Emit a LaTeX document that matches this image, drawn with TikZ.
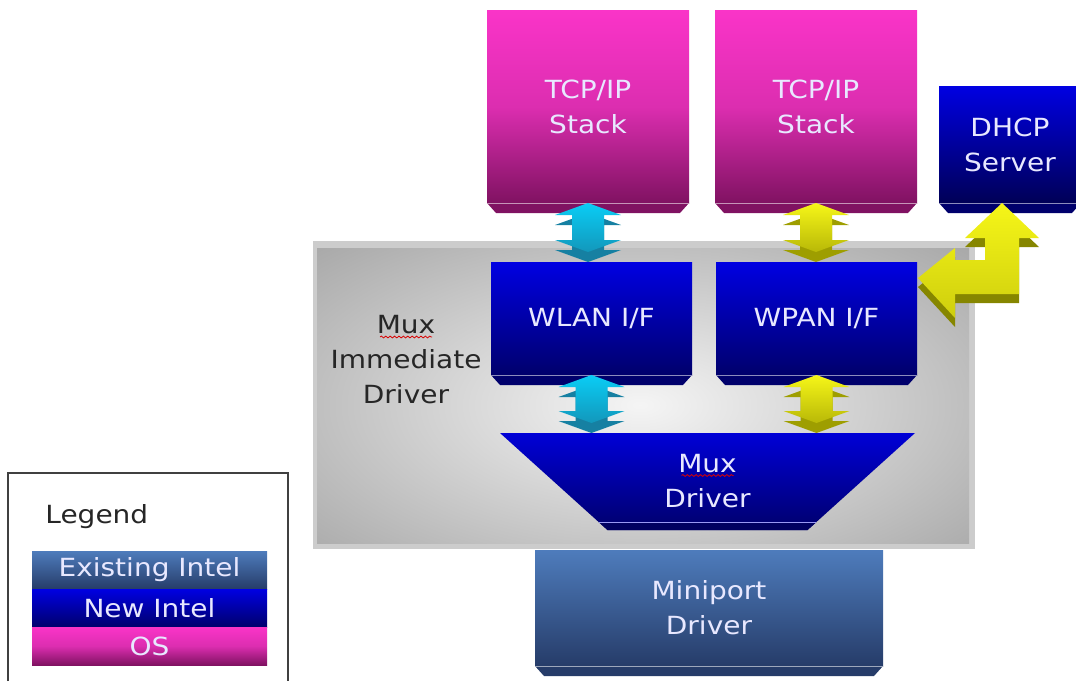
\documentclass[tikz,border=0pt]{standalone}
\usepackage{fontspec}
\setmainfont{DejaVu Sans}[FakeStretch=1.12]
\usetikzlibrary{calc,positioning,decorations.pathmorphing}

\definecolor{osA}{RGB}{250,52,200}
\definecolor{osB}{RGB}{128,18,98}
\definecolor{newA}{RGB}{0,0,226}
\definecolor{newB}{RGB}{0,0,108}
\definecolor{oldA}{RGB}{78,124,188}
\definecolor{oldB}{RGB}{38,60,105}
\definecolor{labelfg}{RGB}{232,232,255}
\definecolor{cyanA}{RGB}{10,205,245}
\definecolor{cyanB}{RGB}{22,128,162}
\definecolor{yelA}{RGB}{246,246,24}
\definecolor{yelB}{RGB}{158,158,0}

\newcommand\boxfont{\fontsize{12.5}{17.5}\selectfont}

\tikzset{
  blk/.style={rectangle, inner sep=0pt, outer sep=0pt, align=center, text=labelfg, font=\boxfont},
  osblk/.style={blk, top color=osA, bottom color=osB, middle color=osA!88!black},
  newblk/.style={blk, top color=newA, bottom color=newB},
  oldblk/.style={blk, top color=oldA, bottom color=oldB},
  legbar/.style={minimum width=117.5pt, minimum height=19pt},
  mux/.style={blk, minimum width=207.5pt, minimum height=48.5pt,
    path picture={
      \shade[top color=newA!95!black, bottom color=newB]
        (path picture bounding box.north west) -- (path picture bounding box.north east)
        -- ([xshift=-53.75pt]path picture bounding box.south east)
        -- ([xshift=53.75pt]path picture bounding box.south west) -- cycle;
      \fill[newB!90!black]
        ([xshift=49.3pt,yshift=4pt]path picture bounding box.south west)
        -- ([xshift=-49.3pt,yshift=4pt]path picture bounding box.south east)
        -- ([xshift=-53.75pt]path picture bounding box.south east)
        -- ([xshift=53.75pt]path picture bounding box.south west) -- cycle;
      \draw[newA!40!white, line width=0.5pt]
        ([xshift=49.3pt,yshift=4pt]path picture bounding box.south west)
        -- ([xshift=-49.3pt,yshift=4pt]path picture bounding box.south east);
    }},
  squiggle/.style={red!85!black, line width=0.4pt, decorate,
    decoration={snake, amplitude=0.45pt, segment length=2.2pt}},
}

% chamfered strip under a block
\newcommand\boxbevel[2]{%
  \fill[#2] (#1.south west) -- (#1.south east) -- ($(#1.south east)+(-9,10)$) -- ($(#1.south west)+(9,10)$) -- cycle;
  \draw[#2!45!white, line width=0.5pt] (#1.south west) -- (#1.south east);
}

% thick up/down arrow between two blocks
\newcommand\twoway[4]{%
  \fill[#4] let \p1=(#1), \p2=(#2) in
    (\x1,\y1-5pt) -- ++(16.5pt,-6pt) -- ++(-8.5pt,0pt) -- (\x1+8pt,\y2+6pt) -- ++(8.5pt,0pt)
    -- (\x1,\y2) -- ++(-16.5pt,6pt) -- ++(8.5pt,0pt) -- (\x1-8pt,\y1-11pt) -- ++(-8.5pt,0pt) -- cycle;
  \shade[top color=#3, bottom color=#4!70!#3] let \p1=(#1), \p2=(#2) in
    (\x1,\y1) -- ++(16.5pt,-6pt) -- ++(-8.5pt,0pt) -- (\x1+8pt,\y2+11pt) -- ++(8.5pt,0pt)
    -- (\x1,\y2+5pt) -- ++(-16.5pt,6pt) -- ++(8.5pt,0pt) -- (\x1-8pt,\y1-6pt) -- ++(-8.5pt,0pt) -- cycle;
}

\begin{document}
\begin{tikzpicture}[x=0.5pt,y=-0.5pt]
\useasboundingbox (0,0) rectangle (1076,681);
\clip (0,0) rectangle (1076,681);

% intermediate driver frame
\fill[black!20] (313,241) rectangle (975,549);
\begin{scope}
  \clip (317,248) rectangle (969,543);
  \fill[black!48] (317,248) rectangle (969,543);
  \shade[inner color=black!4, outer color=black!48] (640,405) ellipse [x radius=680, y radius=330];
\end{scope}
\node[font=\boxfont, align=center, text=black!85, inner sep=0pt] (imd) at (406,360) {Mux\\Immediate\\Driver};
\draw[squiggle] ($(imd.center)+(-26,-23)$) -- ++(52,0);

\node[osblk, minimum width=101pt, minimum height=96.5pt] (tcpA) at (588,106.5) {TCP/IP\\Stack};
\node[osblk, minimum width=101pt, minimum height=96.5pt] (tcpB) at (816,106.5) {TCP/IP\\Stack};
\node[newblk, bottom color=newB!80!black, minimum width=71pt, minimum height=58.5pt] (dhcp) at (1010,144.5) {DHCP\\Server};
\node[newblk, minimum width=100.5pt, minimum height=56.5pt] (wlan) at (591.5,318.5) {WLAN I/F};
\node[newblk, minimum width=100.5pt, minimum height=56.5pt] (wpan) at (816.5,318.5) {WPAN I/F};
\node[mux] (mux) at (707.5,481.5) {Mux\\Driver};
\draw[squiggle] ($(mux.center)+(-26,-6)$) -- ++(52,0);
\node[oldblk, minimum width=174pt, minimum height=58pt] (mini) at (709,608) {Miniport\\Driver};

\foreach \n/\c in {tcpA/osB, tcpB/osB, dhcp/newB, wlan/newB, wpan/newB, mini/oldB}
  {\boxbevel{\n}{\c}}

\twoway{tcpA.south}{wlan.north}{cyanA}{cyanB}
\twoway{tcpB.south}{wpan.north}{yelA}{yelB}
\twoway{wlan.south}{mux.north}{cyanA}{cyanB}
\twoway{wpan.south}{mux.north}{yelA}{yelB}

% bent arrow DHCP <-> WPAN
\coordinate (bend) at ($(dhcp.south)+(-8,0)$);
\fill[yelB!85!black, shift={(bend)}, yshift=-4.5pt] (0,0) -- (37,35) -- (17,35) -- (17,91) -- (-47,91) -- (-47,115)
  -- (-84,75) -- (-47,45) -- (-47,57) -- (-17,57) -- (-17,35) -- (-37,35) -- cycle;
\shade[top color=yelA, bottom color=yelA!55!yelB, shift={(bend)}] (0,0) -- (37,35) -- (17,35) -- (17,91) -- (-47,91) -- (-47,115)
  -- (-84,75) -- (-47,45) -- (-47,57) -- (-17,57) -- (-17,35) -- (-37,35) -- cycle;

% legend
\draw[black!75, line width=0.8pt] (8,681) |- (288,473) -- (288,681);
\node[font=\boxfont, text=black!85, anchor=west, inner sep=0pt] (legtitle) at (45,517) {Legend};
\node[oldblk, legbar] (existing) at (149.5,570) {Existing Intel};
\node[newblk, legbar, below=0pt of existing] (newintel) {New Intel};
\node[osblk, legbar, below=0pt of newintel] (osbar) {OS};
\end{tikzpicture}
\end{document}
